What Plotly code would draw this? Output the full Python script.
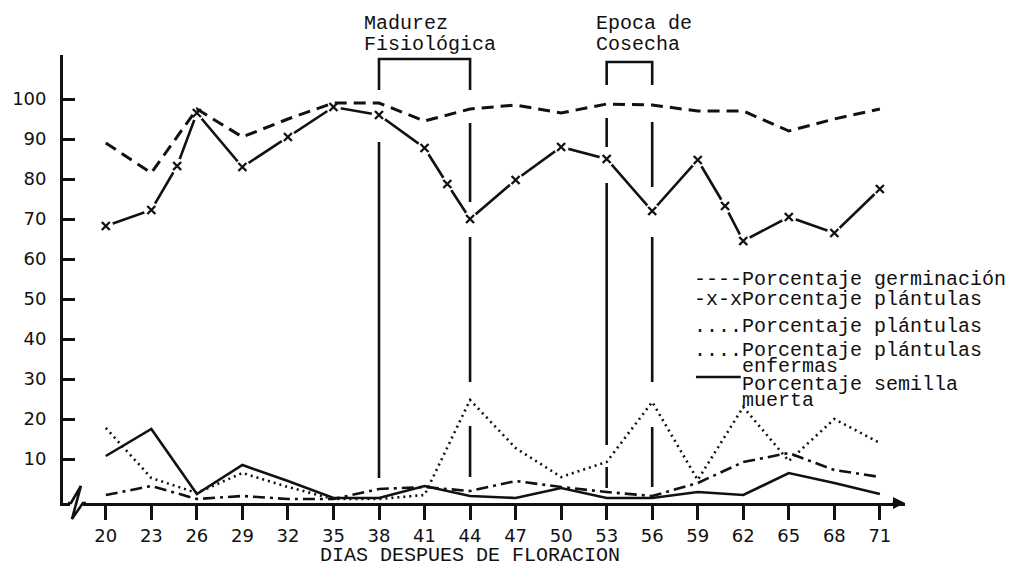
import plotly.graph_objects as go

# ---------------- data ----------------
dias = [20, 23, 26, 29, 32, 35, 38, 41, 44, 47, 50, 53, 56, 59, 62, 65, 68, 71]
tick_labels = ["20", "23", "26", "29", "32", "35", "38", "41", "44", "47",
               "50", "53", "56", "59", "62", "65", "68", "71"]

germinacion = [89, 81.5, 97.5, 90.5, 95, 99, 99, 94.5, 97.5, 98.5,
               96.5, 98.75, 98.5, 97, 97, 92, 95, 97.5]

dias_plantulas = [20, 23, 24.7, 26, 29, 32, 35, 38, 41, 42.5, 44, 47, 50, 53,
                  56, 59, 60.8, 62, 65, 68, 71]
plantulas = [68.25, 72.25, 83.25, 96.5, 83, 90.5, 98, 96, 87.75, 78.75, 70,
             79.75, 88, 85, 72, 84.75, 73.25, 64.5, 70.5, 66.5, 77.5]

plantulas_anormales = [1, 3.25, 0, 0.75, 0, 0, 2.5, 3, 2, 4.5,
                       3, 1.75, 0.75, 4, 9.25, 11.5, 7.25, 5.5]
plantulas_enfermas = [17.75, 5.25, 1.5, 6.5, 3, 0, 0, 1, 24.75, 12.75,
                      5.5, 9.25, 24.25, 4.75, 23, 9.5, 20, 14]
semilla_muerta = [10.75, 17.5, 1.25, 8.5, 4.5, 0.25, 0.25, 3.25, 0.75, 0.25,
                  2.75, 0.25, 0.25, 1.75, 1, 6.5, 4, 1.25]

madurez = (38, 44)
cosecha = (53, 56)

# vertical marker-line segments (value ranges) drawn by hand in original
segmentos = {
    38: [(5.25, 89.25)],
    44: [(5.5, 18.25), (29.25, 65.5), (74.25, 94)],
    53: [(2.75, 8), (13.5, 79), (88, 95.25)],
    56: [(3, 18), (29.25, 65.5), (78, 94.25)],
}

# ---------------- layout geometry ----------------
W, H = 1015, 566
L, R, T, B = 59, 905, 55, 503
X0 = 20 - (102 - L) / 15.25
X1 = 20 + (R - 102) / 15.25
YR = [-1, 111]


def px(xp):
    return (xp - L) / (R - L)


def py(yp):
    return (B - yp) / (B - T)


MONO = "Liberation Mono"
SANS = "DejaVu Sans"
BLACK = "#111111"
LW = 2.6

fig = go.Figure()

fig.add_trace(go.Scatter(x=dias, y=semilla_muerta, mode="lines",
                         line=dict(color=BLACK, width=LW), showlegend=False))
fig.add_trace(go.Scatter(x=dias, y=plantulas_enfermas, mode="lines",
                         line=dict(color=BLACK, width=LW, dash="2px,4px"),
                         showlegend=False))
fig.add_trace(go.Scatter(x=dias, y=plantulas_anormales, mode="lines",
                         line=dict(color=BLACK, width=LW, dash="12px,5px,3px,5px"),
                         showlegend=False))
fig.add_trace(go.Scatter(x=dias_plantulas, y=plantulas, mode="lines",
                         line=dict(color=BLACK, width=LW), showlegend=False))
fig.add_trace(go.Scatter(x=dias_plantulas, y=plantulas, mode="markers",
                         marker=dict(symbol="circle", size=15, color="white"),
                         showlegend=False))
fig.add_trace(go.Scatter(x=dias_plantulas, y=plantulas, mode="markers",
                         marker=dict(symbol="x-thin", size=8,
                                     line=dict(color=BLACK, width=2.4)),
                         showlegend=False))
fig.add_trace(go.Scatter(x=dias, y=germinacion, mode="lines",
                         line=dict(color=BLACK, width=LW + 0.4, dash="12px,7px"),
                         showlegend=False))

shapes = []
# vertical lines
for d, segs in segmentos.items():
    for y0, y1 in segs:
        shapes.append(dict(type="line", xref="x", yref="y", x0=d, x1=d,
                           y0=y0, y1=y1, line=dict(color=BLACK, width=2.6)))
# brackets
for (a, b), top, bot in [(madurez, 110, 102.25), (cosecha, 109.25, 103.5)]:
    shapes.append(dict(type="path", xref="x", yref="y",
                       path=f"M {a},{bot} L {a},{top} L {b},{top} L {b},{bot}",
                       line=dict(color=BLACK, width=2.6)))
# axis break (zigzag)
shapes.append(dict(type="rect", xref="paper", yref="paper",
                   x0=px(66), x1=px(79), y0=py(506), y1=py(500),
                   fillcolor="white", line=dict(width=0), layer="above"))
shapes.append(dict(type="path", xref="paper", yref="paper",
                   path=(f"M {px(64)},{py(503)} L {px(67)},{py(503)} "
                         f"L {px(77)},{py(486)} L {px(68)},{py(519)} "
                         f"L {px(79)},{py(503)} L {px(82)},{py(503)}"),
                   line=dict(color=BLACK, width=2.6), layer="above"))
# legend sample for solid line
shapes.append(dict(type="line", xref="paper", yref="paper",
                   x0=px(695), x1=px(740), y0=py(377), y1=py(377),
                   line=dict(color=BLACK, width=2.4)))

annotations = []
DX = -4  # compensate annotation padding


def txt(s, xp, yp, size=20, font=MONO, xanchor="left"):
    annotations.append(dict(text=s, x=px(xp + (DX if xanchor == "left" else 0)),
                            y=py(yp), xref="paper",
                            yref="paper", showarrow=False, xanchor=xanchor,
                            yanchor="middle",
                            font=dict(family=font, size=size, color=BLACK)))


txt("Madurez", 363, 23)
txt("Fisiológica", 363, 45)
txt("Epoca de", 597, 23)
txt("Cosecha", 597, 45)

txt("----Porcentaje germinación", 695, 279)
txt("-x-x", 695, 299)
txt("Porcentaje plántulas", 743, 299)
txt("....Porcentaje plántulas", 695, 326)
txt("....Porcentaje plántulas", 695, 350)
txt("enfermas", 743, 366)
txt("Porcentaje semilla", 743, 384)
txt("muerta", 743, 400)

txt("DIAS DESPUES DE FLORACION", 468, 555, xanchor="center")

# arrow at end of x axis
annotations.append(dict(x=1.0, y=-1, xref="paper", yref="y", ax=-14, ay=0,
                        showarrow=True, arrowhead=2, arrowsize=1,
                        arrowwidth=2.4, arrowcolor=BLACK, text=""))

fig.update_layout(
    width=W, height=H,
    margin=dict(l=L, r=W - R, t=T, b=H - B, pad=0),
    paper_bgcolor="white", plot_bgcolor="white",
    shapes=shapes, annotations=annotations,
    showlegend=False,
    xaxis=dict(range=[X0, X1], tickvals=dias, ticktext=tick_labels,
               showgrid=False, zeroline=False, showline=True,
               linecolor=BLACK, linewidth=2.8, ticks="outside",
               ticklen=14, tickwidth=2.6, tickcolor=BLACK,
               tickfont=dict(family=SANS, size=18, color=BLACK)),
    yaxis=dict(range=YR, tickvals=[10, 20, 30, 40, 50, 60, 70, 80, 90, 100],
               showgrid=False, zeroline=False, showline=True,
               linecolor=BLACK, linewidth=2.8, ticks="inside",
               ticklen=12, tickwidth=2.6, tickcolor=BLACK,
               ticklabelstandoff=10,
               tickfont=dict(family=SANS, size=18, color=BLACK)),
)

fig.write_html("out.html",
               config={"displayModeBar": False},
               post_script="document.body.style.margin='0px';"
                           "document.body.style.overflow='hidden';")
